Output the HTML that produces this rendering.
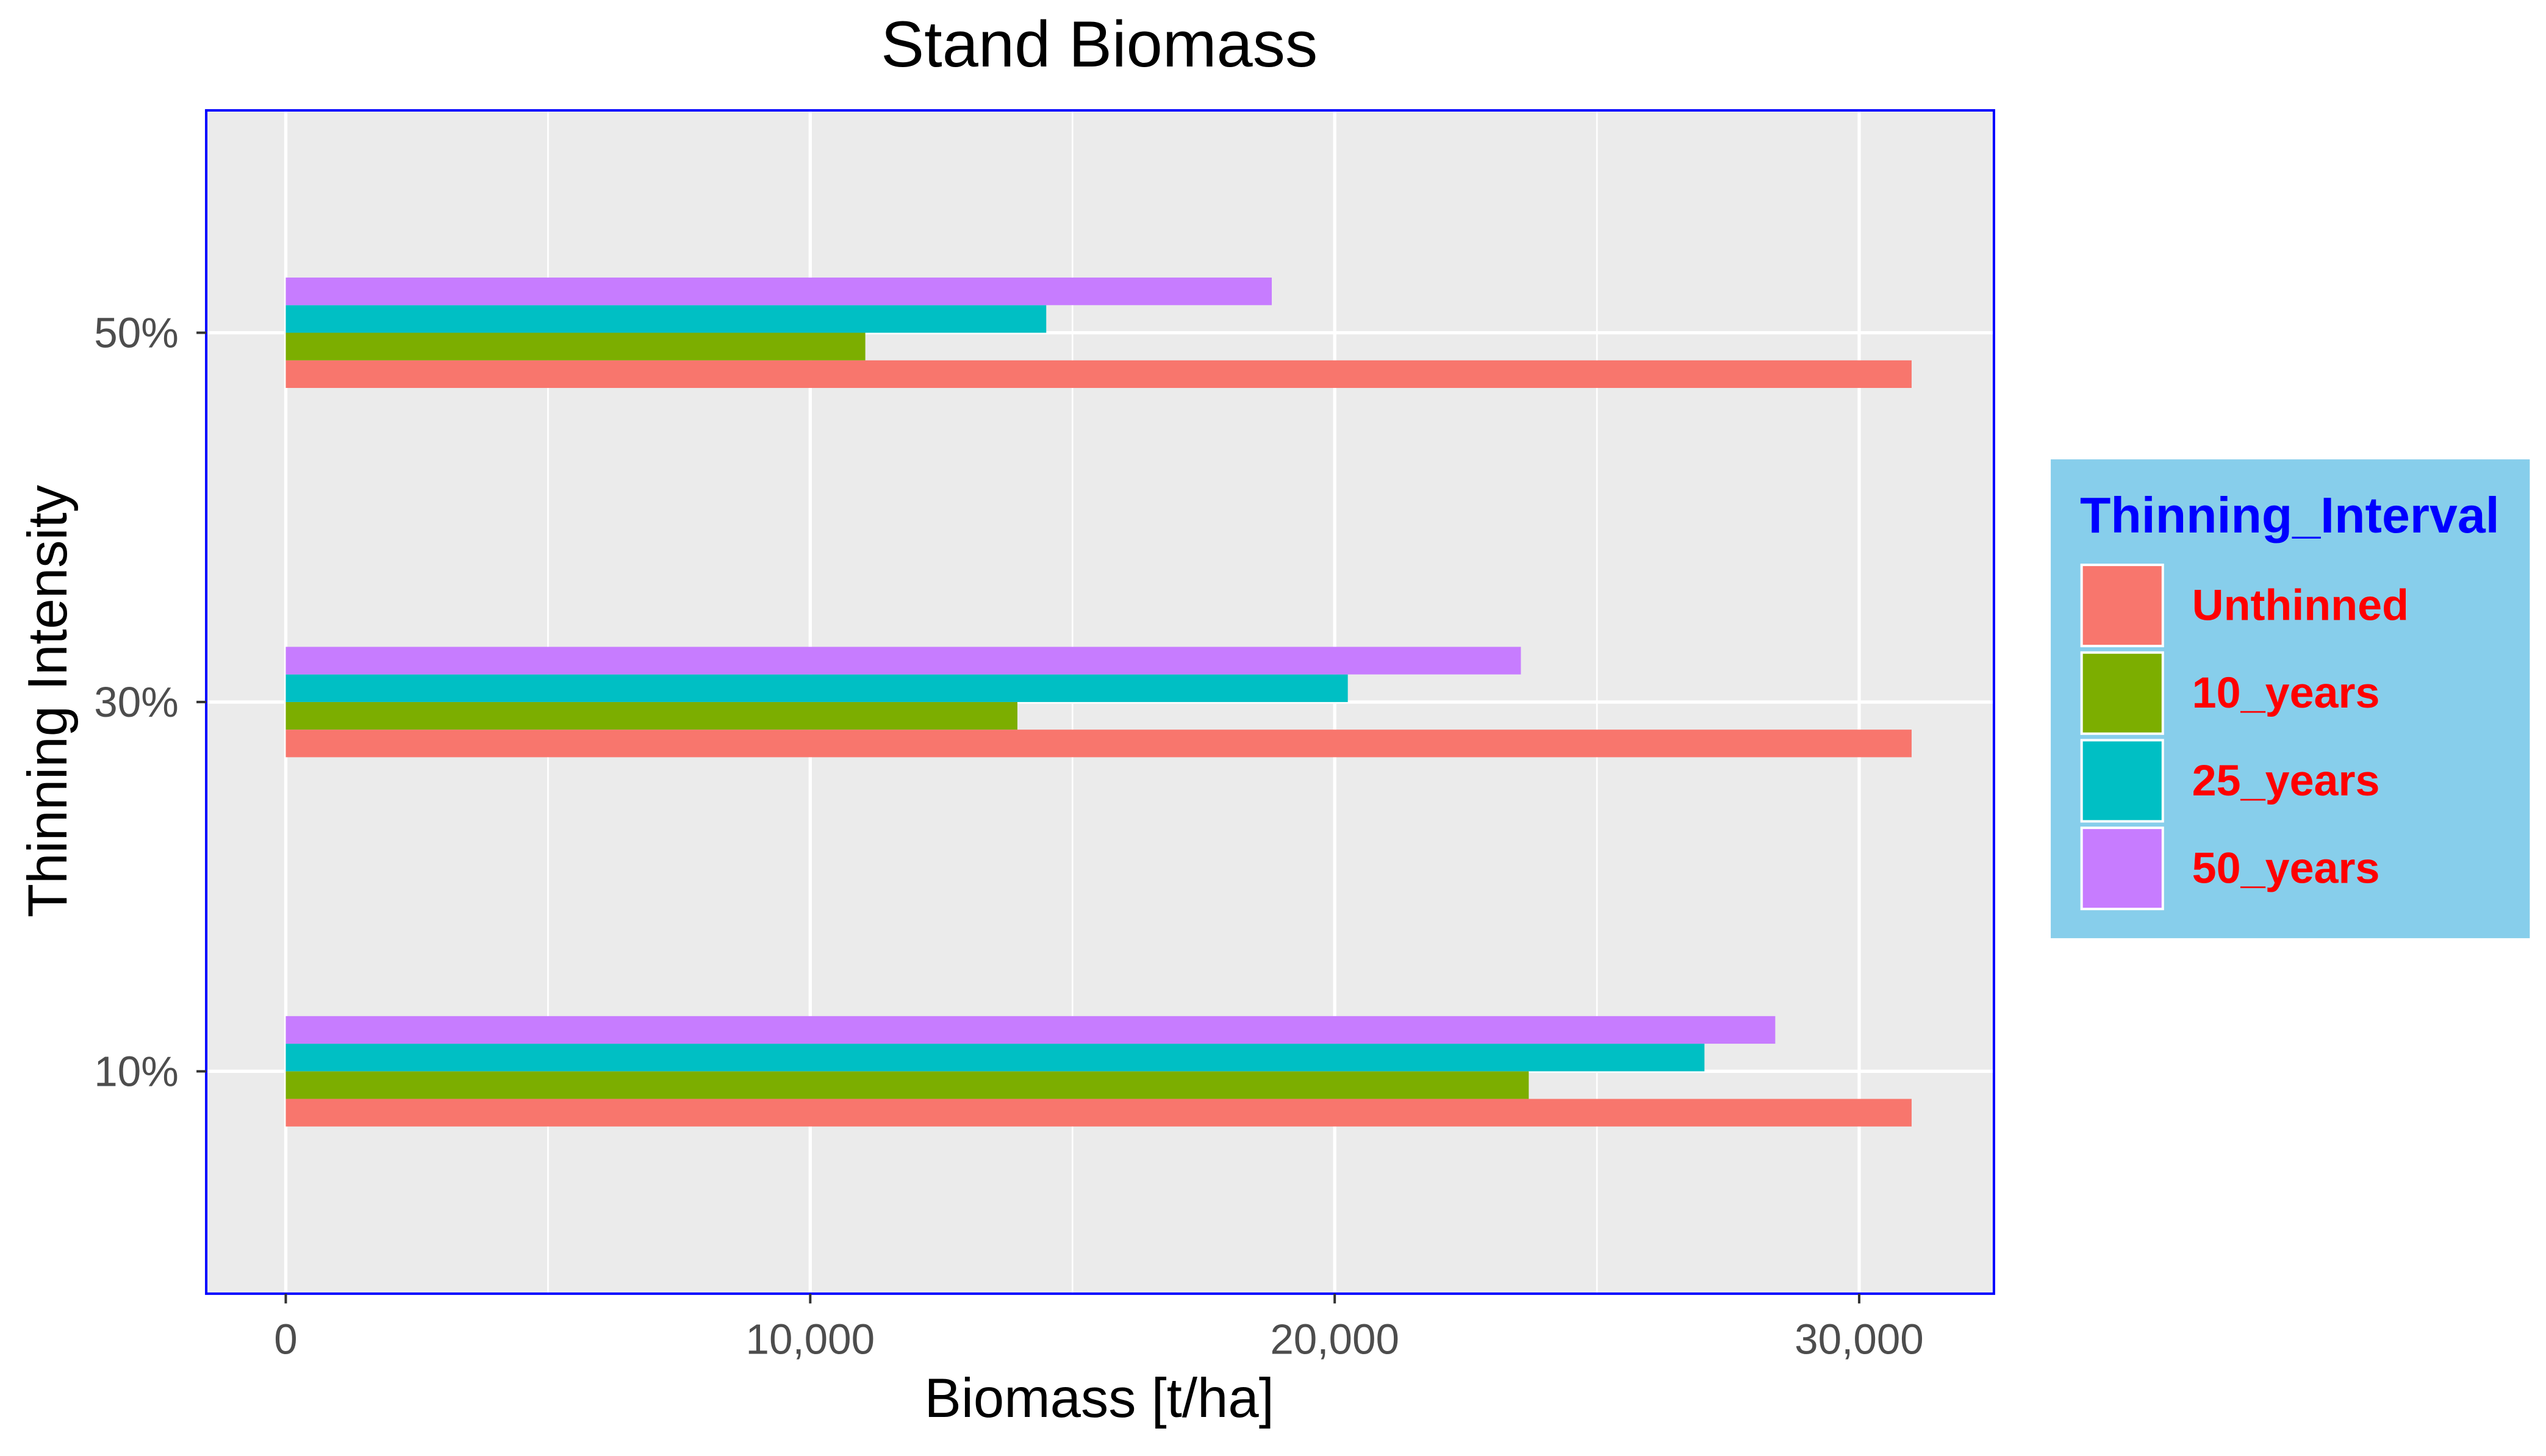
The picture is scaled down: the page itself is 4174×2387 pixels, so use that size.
<!DOCTYPE html>
<html><head><meta charset="utf-8"><style>
html,body{margin:0;padding:0;background:#fff;}
svg{display:block;font-family:"Liberation Sans",Arial,sans-serif;}
</style></head><body>
<svg id="chart" width="4174" height="2387" viewBox="0 0 1568 897" preserveAspectRatio="none" xmlns="http://www.w3.org/2000/svg">
<text x="677" y="41" font-size="40" text-anchor="middle" fill="#000">Stand Biomass</text>
<rect x="127" y="68" width="1101" height="729" fill="#EBEBEB" stroke="none"/>
<g id="grid"></g>
<g id="bars"></g>
<rect x="127" y="68" width="1101" height="729" fill="none" stroke="#0000FF" stroke-width="1.5"/>
<g id="axes"></g>
<text x="677" y="873" font-size="34" text-anchor="middle" fill="#000">Biomass [t/ha]</text>
<text transform="translate(41,432) rotate(-90)" font-size="34" text-anchor="middle" fill="#000">Thinning Intensity</text>
<g id="legend">
<rect x="1263" y="283" width="295" height="295" fill="#87CEEB"/>
<text x="1281" y="328" font-size="31" font-weight="bold" fill="#0000FF">Thinning_Interval</text>
</g>
</svg>
<script>
const categories = ["10%", "30%", "50%"];
const seriesNames = ["Unthinned", "10_years", "25_years", "50_years"];
const unthinned = [31000, 31000, 31000];
const years10 = [23700, 13950, 11050];
const years25 = [27050, 20250, 14500];
const years50 = [28400, 23550, 18800];
const xTicks = [0, 10000, 20000, 30000];
const xTickLabels = ["0", "10,000", "20,000", "30,000"];
const colors = ["#F8766D", "#7CAE00", "#00BFC4", "#C77CFF"];
const NS = "http://www.w3.org/2000/svg";
const series = [unthinned, years10, years25, years50];
const xs = v => 176 + v * (1145 - 176) / 30000;
const ys = i => 660 - i * 227.5;
const bw = 17;
function mk(tag, attrs, parent) {
  const e = document.createElementNS(NS, tag);
  for (const k in attrs) e.setAttribute(k, attrs[k]);
  parent.appendChild(e);
  return e;
}
const grid = document.getElementById("grid");
const bars = document.getElementById("bars");
const axes = document.getElementById("axes");
for (let i = 0; i < xTicks.length; i++) {
  const mv = xTicks[i] + 5000;
  const l = mk("line", {x1: xs(mv), x2: xs(mv), y1: 68, y2: 797, stroke: "#fff", "stroke-width": 1}, grid);
  
  
}
xTicks.forEach((t, i) => {
  const l = mk("line", {x1: xs(t), x2: xs(t), y1: 68, y2: 797, stroke: "#fff", "stroke-width": 2}, grid);
  
  
  const tk = mk("line", {x1: xs(t), x2: xs(t), y1: 797, y2: 803, stroke: "#333", "stroke-width": 1.5}, axes);
  
  
  const tx = mk("text", {x: xs(t), y: 834, "font-size": 26, "text-anchor": "middle", fill: "#4D4D4D"}, axes);
  tx.textContent = xTickLabels[i];
  
  
});
categories.forEach((c, i) => {
  const y = ys(i);
  const l = mk("line", {x1: 127, x2: 1228, y1: y, y2: y, stroke: "#fff", "stroke-width": 2}, grid);
  
  
  const tk = mk("line", {x1: 121, x2: 127, y1: y, y2: y, stroke: "#333", "stroke-width": 1.5}, axes);
  
  
  const tx = mk("text", {x: 110, y: y + 9, "font-size": 26, "text-anchor": "end", fill: "#4D4D4D"}, axes);
  tx.textContent = c;
  
  
  series.forEach((s, j) => {
    const top = y + bw * 2 - (j + 1) * bw;
    const r = mk("rect", {x: xs(0), y: top, width: xs(s[i]) - xs(0), height: bw, fill: colors[j]}, bars);
    
    
  });
});
const legend = document.getElementById("legend");
seriesNames.forEach((n, j) => {
  const y = 348 + j * 54;
  const r = mk("rect", {x: 1282, y: y, width: 50, height: 50, fill: colors[j], stroke: "#fff", "stroke-width": 1.5}, legend);
  
  
  const t = mk("text", {x: 1350, y: y + 34, "font-size": 27, "font-weight": "bold", fill: "#FF0000"}, legend);
  t.textContent = n;
  
  
});
</script>
</body></html>
